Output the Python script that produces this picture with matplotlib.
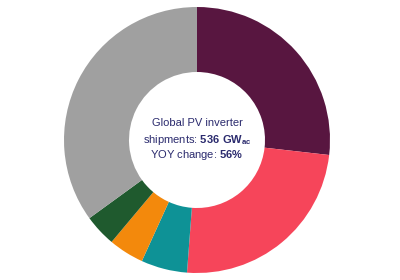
import matplotlib
matplotlib.use("Agg")
import matplotlib.pyplot as plt

plt.rcParams['font.family'] = ['Liberation Sans', 'DejaVu Sans']
plt.rcParams['mathtext.fontset'] = 'custom'
plt.rcParams['mathtext.rm'] = 'Liberation Sans'
plt.rcParams['mathtext.bf'] = 'Liberation Sans:bold'

segments = ["Purple", "Red", "Teal", "Orange", "Green", "Gray"]
shares = [26.8, 24.4, 5.6, 4.3, 3.9, 35.0]
colors = ["#581640", "#f6455a", "#0e9296", "#f3890c", "#1f5a2e", "#a0a0a0"]
center_lines = [
    "Global PV inverter",
    r"shipments: $\mathbf{536\ GW}_{\mathbf{ac}}$",
    r"YOY change: $\mathbf{56\%}$",
]

W, H = 400, 280
cx, cy, R = 197, 140, 133
fig = plt.figure(figsize=(W / 100, H / 100), dpi=100)
ax = fig.add_axes([(cx - R) / W, (cy - R) / H, 2 * R / W, 2 * R / H])
ax.pie(shares, colors=colors, startangle=90, counterclock=False, radius=1,
       wedgeprops=dict(width=1 - 68 / 133, linewidth=0))
ax.set_xlim(-1, 1)
ax.set_ylim(-1, 1)
ax.set_aspect('equal')
ax.axis('off')

ys = [0.128, 0.0, -0.11]
for t, y in zip(center_lines, ys):
    ax.text(0, y, t, ha='center', va='center', fontsize=8, color='#2b2b6e')

fig.savefig("out.png", dpi=100)
